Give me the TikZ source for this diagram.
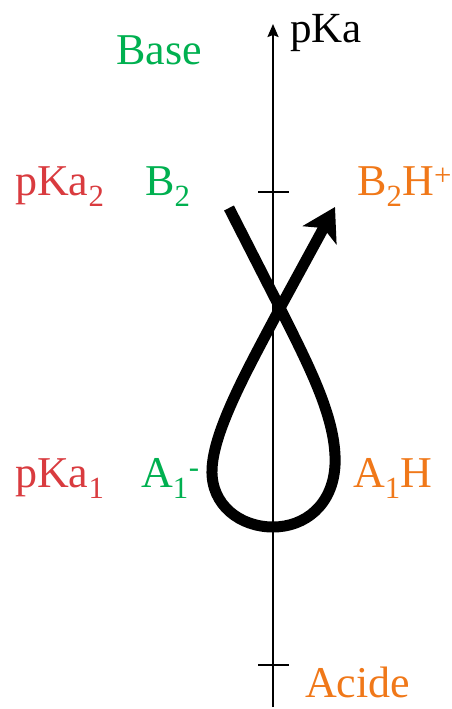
\documentclass[tikz,border=0pt]{standalone}
\usepackage{fontspec}
\setmainfont{Liberation Serif}
\usetikzlibrary{arrows.meta}
\definecolor{vert}{HTML}{00B050}
\definecolor{rouge}{HTML}{D93B3F}
\definecolor{orange}{HTML}{F07819}
\tikzset{
  lbl/.style={inner sep=0pt,anchor=base west,font=\fontsize{44}{48}\selectfont},
  axe/.style={line width=2pt,-{Stealth[length=13pt,width=11pt,inset=2pt]}},
  graduation/.style={line width=1.6pt},
  boucle/.style={line width=11pt,-{Stealth[length=32pt,width=38pt,inset=8pt]}},
}
\begin{document}
\begin{tikzpicture}[x=1pt,y=-1pt]
  \useasboundingbox (0,0) rectangle (451,709);
  % axe des pKa
  \coordinate (bas) at (273,707);
  \coordinate (haut) at (273,24);
  \draw[axe] (bas) -- (haut);
  \node[lbl,font=\fontsize{43}{46}\selectfont] (pka) at (290,43) {pKa};
  \coordinate (g2) at (258,192); \coordinate (d2) at (289,192);
  \coordinate (g1) at (258,665); \coordinate (d1) at (289,665);
  \draw[graduation] (g2) -- (d2);
  \draw[graduation] (g1) -- (d1);
  % textes
  \node[lbl,text=vert] (base) at (116,65) {Base};
  \node[lbl,text=orange] (acide) at (305,697) {Acide};
  \node[lbl,text=rouge] (pka2) at (15,195) {pKa\textsubscript{2}};
  \node[lbl,text=vert] (b2) at (145,195) {B\textsubscript{2}};
  \node[lbl,text=orange] (b2h) at (357,195) {B\textsubscript{2}H\textsuperscript{+}};
  \node[lbl,text=rouge] (pka1) at (15,487) {pKa\textsubscript{1}};
  \node[lbl,text=vert] (a1) at (141,487) {A\textsubscript{1}\textsuperscript{-}};
  \node[lbl,text=orange] (a1h) at (353,487) {A\textsubscript{1}H};
  % boucle
  \coordinate (debut) at (229,208);
  \coordinate (croix) at (280,308);
  \coordinate (fin) at (335,207);
  \draw[boucle] (debut) -- (croix)
    .. controls (310,368) and (337,420) .. (335,465)
    .. controls (333,505) and (305,527) .. (273,527)
    .. controls (240,527) and (211,505) .. (212,470)
    .. controls (213,430) and (250,365) .. (croix) -- (fin);
\end{tikzpicture}
\end{document}
